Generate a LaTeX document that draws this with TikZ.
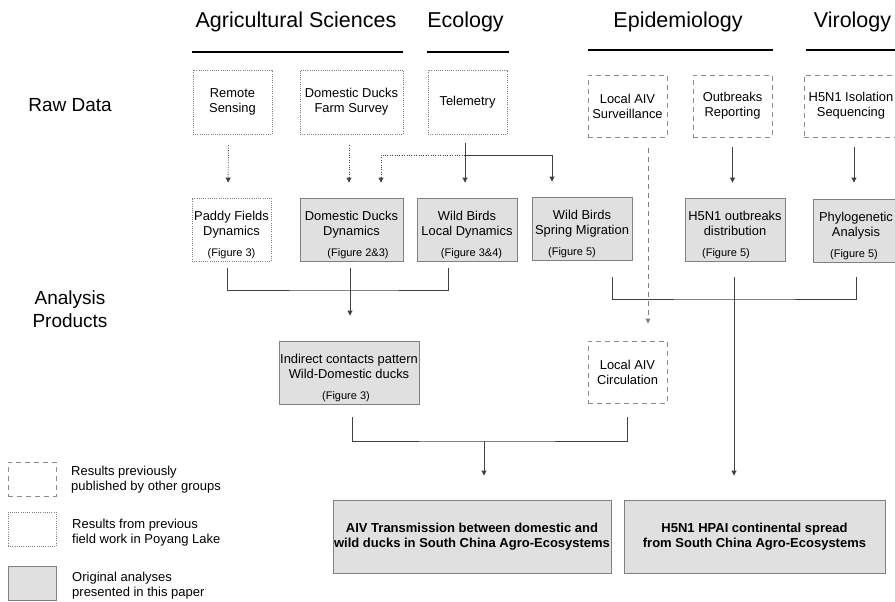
\documentclass[tikz,border=0pt]{standalone}
\usepackage{fontspec}
\setmainfont{Liberation Sans}
\usetikzlibrary{arrows.meta}

\newcommand{\boxfont}{\fontsize{12.9}{15}\selectfont}
\newcommand{\figfont}{\fontsize{11}{13}\selectfont}

\begin{document}
\begin{tikzpicture}[x=1pt, y=-1pt,
    hdr/.style={font=\fontsize{21.5}{24}\selectfont, anchor=base, inner sep=0pt},
    rowlabel/.style={font=\fontsize{19}{22.7}\selectfont, align=center, inner sep=0pt},
    bx/.style={inner sep=0pt, align=center, font=\boxfont},
    fieldbox/.style={bx, draw=black!50, line width=0.8pt, dash pattern=on 0.9pt off 1.3pt},
    prevbox/.style={bx, draw=black!45, line width=0.9pt, dash pattern=on 5pt off 4pt},
    origbox/.style={bx, draw=black!50, fill=black!12, line width=0.9pt},
    figbox/.style={text depth=13pt},
    figlab/.style={anchor=base, yshift=5pt, inner sep=0pt, font=\figfont},
    bigbox/.style={origbox, minimum height=73pt, font=\fontsize{13}{15}\selectfont\bfseries},
    legtext/.style={anchor=west, align=left, inner sep=0pt, font=\fontsize{13}{15}\selectfont},
    conn/.style={draw=black!75, line width=0.9pt},
    dotconn/.style={conn, dash pattern=on 0.9pt off 1.5pt},
    dashconn/.style={conn, draw=black!50, dash pattern=on 5pt off 4pt},
    arr/.style={-{Triangle[width=5pt,length=5pt]}},
    headrule/.style={line width=2.8pt}]
    \useasboundingbox (0,0) rectangle (895,602);
    \clip (0,0) rectangle (895,602);

    % 分野の見出し
    \node[hdr] (hAgri) at (296,28) {Agricultural Sciences};
    \node[hdr] (hEco) at (465.5,28) {Ecology};
    \node[hdr] (hEpi) at (678,28) {Epidemiology};
    \node[hdr] (hVir) at (852.5,28) {Virology};
    % 見出しの下線
    \foreach \a/\b/\y in {192/403/52, 427/509/52, 588/773/50, 806/895/50} {
        \draw[headrule] (\a,\y) -- (\b,\y);
    }

    % 行ラベル
    \node[rowlabel, anchor=base] (lRaw) at (70,111) {Raw Data};
    \node[rowlabel] (lAna) at (70,309.5) {Analysis\\Products};

    % 生データ
    \node[fieldbox, minimum width=79pt, minimum height=64pt] (rs) at (232.5,102) {Remote\\Sensing};
    \node[fieldbox, minimum width=103pt, minimum height=64pt] (dfs) at (351.5,102) {Domestic Ducks\\Farm Survey};
    \node[fieldbox, minimum width=79pt, minimum height=64pt] (tel) at (467.5,102) {Telemetry};
    \node[prevbox, minimum width=79pt, minimum height=62pt] (las) at (627.5,106) {Local AIV\\Surveillance};
    \node[prevbox, minimum width=79pt, minimum height=62pt] (obr) at (732.5,106) {Outbreaks\\Reporting};
    \node[prevbox, minimum width=94pt, minimum height=62pt] (iso) at (851,106) {H5N1 Isolation\\Sequencing};

    % 解析結果
    \node[fieldbox, figbox, minimum width=79pt, minimum height=63pt,
        label={[figlab]south:(Figure 3)}] (pfd) at (231.5,229.5) {Paddy Fields\\Dynamics};
    \node[origbox, figbox, minimum width=103pt, minimum height=63pt,
        label={[figlab, xshift=6.5pt]south:(Figure 2\&3)}] (ddd) at (351.5,229.5) {Domestic Ducks\\Dynamics};
    \node[origbox, figbox, minimum width=100pt, minimum height=63pt,
        label={[figlab, xshift=4.5pt]south:(Figure 3\&4)}] (wbl) at (467,229.5) {Wild Birds\\Local Dynamics};
    \node[origbox, figbox, minimum width=100pt, minimum height=63pt,
        label={[figlab, xshift=-10pt]south:(Figure 5)}] (wbs) at (582,228.5) {Wild Birds\\Spring Migration};
    \node[origbox, figbox, minimum width=100pt, minimum height=63pt,
        label={[figlab, xshift=-9pt]south:(Figure 5)}] (hod) at (735,229.5) {H5N1 outbreaks\\distribution};
    \node[origbox, figbox, minimum width=86pt, minimum height=63pt,
        label={[figlab, xshift=-2pt]south:(Figure 5)}] (phy) at (856,230.5) {Phylogenetic\\Analysis};
    \node[origbox, figbox, minimum width=140pt, minimum height=63pt,
        label={[figlab, xshift=-3pt]south:(Figure 3)}] (icp) at (349,372.5) {Indirect contacts pattern\\Wild-Domestic ducks};
    \node[prevbox, minimum width=79pt, minimum height=62pt] (lac) at (627.5,372) {Local AIV\\Circulation};

    % 最終結果
    \node[bigbox, minimum width=278pt] (aiv) at (472,536.5) {AIV Transmission between domestic and\\wild ducks in South China Agro-Ecosystems};
    \node[bigbox, minimum width=261pt] (hpai) at (754.5,536.5) {H5N1 HPAI continental spread\\from South China Agro-Ecosystems};

    % 生データ→解析の矢印
    \draw[dotconn, arr, shorten <=11pt, shorten >=15pt] ([xshift=-4pt]rs.south) -- ([xshift=-3.5pt]pfd.north);
    \draw[dotconn, arr, shorten <=11pt, shorten >=15pt] ([xshift=-2.5pt]dfs.south) -- ([xshift=-2.5pt]ddd.north);
    \coordinate (tsplit) at (465,155);
    \draw[conn, arr, shorten <=9pt, shorten >=15pt] (tel.south -| tsplit) -- (wbl.north -| tsplit);
    \draw[conn, arr, shorten >=15pt] (tsplit) -| ([xshift=-30pt]wbs.north);
    \draw[dotconn, arr, shorten >=15pt] (tsplit) -| ([xshift=29.5pt]ddd.north);
    \draw[dashconn, arr, shorten <=11pt, shorten >=17pt] ([xshift=20.5pt]las.south) -- ([xshift=20.5pt]lac.north);
    \draw[conn, arr, shorten <=10pt, shorten >=15pt] (obr.south) -- (obr.south |- hod.north);
    \draw[conn, arr, shorten <=10pt, shorten >=16pt] ([xshift=3pt]iso.south) -- ([xshift=3pt]iso.south |- phy.north);

    % 左の括弧（農業＋生態）
    \coordinate (lbar) at (350,290);
    \draw[conn] ([xshift=-4pt, yshift=-7pt]pfd.south) |- (lbar) -| ([xshift=-19pt, yshift=-7pt]wbl.south);
    \draw[conn, arr, shorten <=7pt, shorten >=25pt] ([xshift=-1.5pt]ddd.south) -- (lbar |- icp.north);
    % 右の括弧（疫学＋ウイルス学）
    \coordinate (rbar) at (734,299);
    \draw[conn] ([xshift=30pt, yshift=-17pt]wbs.south) |- (rbar) -| ([yshift=-15pt]phy.south);
    \draw[conn, arr, shorten <=16pt, shorten >=24pt] ([xshift=-1pt]hod.south) -- (rbar |- hpai.north);
    % 下の括弧
    \coordinate (bbar) at (484,441);
    \draw[conn] ([xshift=3pt, yshift=-13pt]icp.south) |- (bbar) -| ([yshift=-14pt]lac.south);
    \draw[conn, arr, shorten >=24pt] (bbar) -- (bbar |- aiv.north);

    % 凡例
    \node[prevbox, minimum width=48pt, minimum height=34pt] (lgA) at (32,479) {};
    \node[legtext] (ltA) at (71,480) {Results previously\\published by other groups};
    \node[fieldbox, minimum width=48pt, minimum height=34pt] (lgB) at (32,529) {};
    \node[legtext] (ltB) at (72,532.5) {Results from previous\\field work in Poyang Lake};
    \node[origbox, minimum width=48pt, minimum height=34pt] (lgC) at (32,583) {};
    \node[legtext] (ltC) at (72,585.5) {Original analyses\\presented in this paper};
\end{tikzpicture}
\end{document}
